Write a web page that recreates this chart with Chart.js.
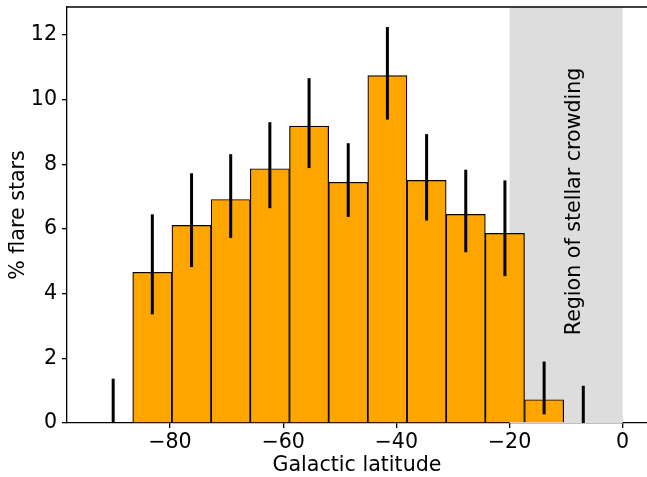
<!DOCTYPE html>
<html>
<head>
<meta charset="utf-8">
<script src="https://cdn.jsdelivr.net/npm/chart.js@4/dist/chart.umd.min.js"></script>
<style>
  html, body { margin: 0; padding: 0; background: #fff; overflow: hidden; }
</style>
</head>
<body>
<canvas id="flareChart" width="647" height="477"></canvas>
<script>
// bin centres (galactic latitude) and values
var binCenters = [-90.04, -83.12, -76.19, -69.27, -62.35, -55.42, -48.50, -41.58, -34.65, -27.73, -20.81, -13.88, -6.96];
var flarePct   = [0, 4.66, 6.11, 6.91, 7.86, 9.18, 7.44, 10.74, 7.50, 6.45, 5.86, 0.72, 0];
var errLow     = [0, 3.36, 4.82, 5.72, 6.64, 7.88, 6.37, 9.38, 6.26, 5.28, 4.54, 0.27, 0];
var errHigh    = [1.37, 6.45, 7.72, 8.31, 9.30, 10.66, 8.65, 12.24, 8.93, 7.83, 7.50, 1.90, 1.15];
var xTicks = [-80, -60, -40, -20, 0];
var yTicks = [0, 2, 4, 6, 8, 10, 12];
var crowdingRange = [-20, 0];
var crowdingLabel = 'Region of stellar crowding';

var FONT = 'DejaVu Sans';
var FSIZE = 20.6;
var minus = function(v) { return String(v).replace('-', '\u2212'); };

var extras = {
  id: 'extras',
  beforeDatasetsDraw: function(chart) {
    var ctx = chart.ctx, a = chart.chartArea, xs = chart.scales.x;
    var x1 = xs.getPixelForValue(crowdingRange[0]);
    var x2 = xs.getPixelForValue(crowdingRange[1]);
    ctx.save();
    ctx.fillStyle = '#dddddd';
    ctx.fillRect(x1, a.top, x2 - x1, a.bottom - a.top);
    ctx.translate(xs.getPixelForValue(-8.4), chart.scales.y.getPixelForValue(6.85));
    ctx.rotate(-Math.PI / 2);
    ctx.fillStyle = '#000';
    ctx.font = FSIZE + 'px "' + FONT + '"';
    ctx.textAlign = 'center';
    ctx.textBaseline = 'middle';
    ctx.fillText(crowdingLabel, 0, 0);
    ctx.restore();
  },
  afterDatasetsDraw: function(chart) {
    var ctx = chart.ctx, xs = chart.scales.x, ys = chart.scales.y, a = chart.chartArea;
    ctx.save();
    ctx.strokeStyle = '#000';
    ctx.lineWidth = 3;
    binCenters.forEach(function(c, i) {
      var px = xs.getPixelForValue(c);
      ctx.beginPath();
      ctx.moveTo(px, ys.getPixelForValue(errLow[i]));
      ctx.lineTo(px, ys.getPixelForValue(errHigh[i]));
      ctx.stroke();
    });
    // top spine
    ctx.lineWidth = 1.3;
    ctx.beginPath();
    ctx.moveTo(a.left, a.top);
    ctx.lineTo(chart.width, a.top);
    ctx.stroke();
    ctx.restore();
  }
};

var noPad = function(s) { s.paddingTop = 0; s.paddingBottom = 0; s.paddingLeft = 0; s.paddingRight = 0; };

new Chart(document.getElementById('flareChart'), {
  type: 'bar',
  data: {
    datasets: [{
      data: binCenters.map(function(c, i) { return { x: c, y: flarePct[i] }; }),
      backgroundColor: '#ffa500',
      borderColor: '#000',
      borderWidth: 1.2,
      borderSkipped: 'start',
      barPercentage: 1,
      categoryPercentage: 1
    }]
  },
  options: {
    responsive: false,
    animation: false,
    layout: { padding: { left: 0, right: 0, top: 7, bottom: 0 } },
    plugins: { legend: { display: false }, tooltip: { enabled: false } },
    scales: {
      x: {
        type: 'linear',
        min: -98.2,
        max: 4.3,
        offset: false,
        afterBuildTicks: function(s) { s.ticks = xTicks.map(function(v) { return { value: v }; }); },
        afterFit: function(s) { s.height = 54; noPad(s); },
        grid: { display: true, drawOnChartArea: false, drawTicks: true, tickLength: 5, color: '#000', lineWidth: 1.3, offset: false },
        border: { display: true, color: '#000', width: 1.3 },
        ticks: { color: '#000', font: { family: FONT, size: FSIZE }, padding: 2, maxRotation: 0, callback: function(v) { return minus(v); } },
        title: { display: true, text: 'Galactic latitude', color: '#000', font: { family: FONT, size: FSIZE }, padding: { top: 0, bottom: -1.5 } }
      },
      y: {
        min: 0,
        max: 12.86,
        afterBuildTicks: function(s) { s.ticks = yTicks.map(function(v) { return { value: v }; }); },
        afterFit: function(s) { s.width = 67; noPad(s); },
        grid: { display: true, drawOnChartArea: false, drawTicks: true, tickLength: 5, color: '#000', lineWidth: 1.3 },
        border: { display: true, color: '#000', width: 1.3 },
        ticks: { color: '#000', font: { family: FONT, size: FSIZE }, padding: 5, callback: function(v) { return minus(v); } },
        title: { display: true, text: '% flare stars', color: '#000', font: { family: FONT, size: FSIZE }, padding: { top: 6, bottom: 0 } }
      }
    }
  },
  plugins: [extras]
});
</script>
</body>
</html>
